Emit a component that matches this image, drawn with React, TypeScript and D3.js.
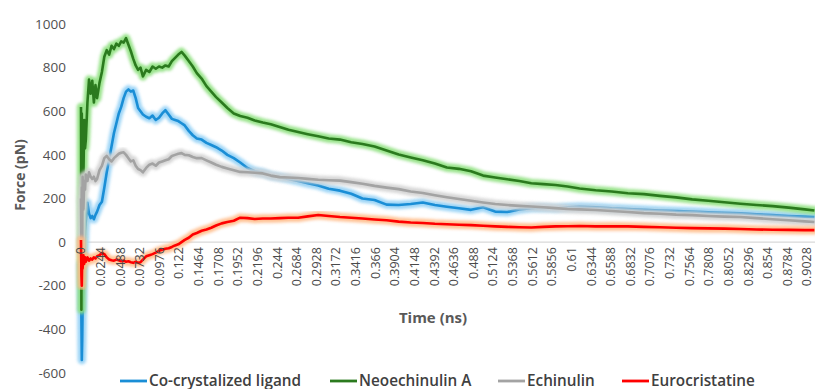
import React from "react";
import * as d3 from "d3";

// time grid (ns), finer near the start where the curves spike
const time = [
  0, 0.0005, 0.001, 0.0015, 0.002, 0.003, 0.004, 0.005, 0.006, 0.008, 0.01, 0.012, 0.014, 0.016, 0.018, 0.02,
  0.023, 0.026, 0.029, 0.032, 0.035, 0.038, 0.041, 0.044, 0.047, 0.05, 0.053, 0.056, 0.059, 0.062, 0.065, 0.068,
  0.071, 0.074, 0.077, 0.081, 0.085, 0.089, 0.093, 0.097, 0.101, 0.105, 0.109, 0.113, 0.117, 0.121, 0.125, 0.129,
  0.134, 0.139, 0.144, 0.15, 0.156, 0.162, 0.168, 0.175, 0.182, 0.19, 0.198, 0.207, 0.216, 0.226, 0.236, 0.247,
  0.258, 0.27, 0.282, 0.295, 0.308, 0.322, 0.336, 0.35, 0.365, 0.38, 0.395, 0.41, 0.425, 0.44, 0.455, 0.47, 0.485,
  0.5, 0.515, 0.53, 0.545, 0.56, 0.575, 0.59, 0.605, 0.62, 0.64, 0.66, 0.68, 0.7, 0.72, 0.74, 0.76, 0.78, 0.8,
  0.82, 0.84, 0.86, 0.88, 0.9, 0.912,
];

const coCrystal = [
  -100, -350, -540, -450, -300, -150, -50, 50, 100, 180, 130, 110, 120, 105, 125, 140,
  170, 185, 250, 320, 380, 440, 500, 545, 590, 620, 660, 690, 700, 690, 695, 660,
  615, 600, 585, 575, 568, 580, 560, 570, 590, 605, 585, 565, 560, 555, 545, 535,
  510, 490, 475, 470, 455, 445, 435, 420, 400, 385, 365, 340, 325, 318, 305, 298,
  290, 280, 270, 260, 245, 236, 222, 200, 193, 172, 170, 175, 182, 170, 162, 155, 148,
  160, 140, 138, 150, 156, 158, 155, 160, 162, 160, 155, 152, 148, 145, 143, 140, 137, 134,
  132, 128, 124, 120, 117, 115,
];

const neoechinulin = [
  620, -310, 590, 260, 520, 300, 560, 430, 470, 640, 745, 680, 740, 640, 720, 660,
  730, 780, 850, 880, 860, 900, 885, 910, 900, 920, 915, 935, 905, 875, 840, 810,
  790, 800, 760, 790, 780, 805, 795, 805, 800, 810, 805, 830, 845, 860, 872, 855,
  830, 805, 775, 750, 715, 690, 665, 640, 615, 590, 578, 570, 558, 548, 540, 528,
  515, 505, 495, 485, 475, 470, 458, 450, 438, 420, 402, 388, 375, 360, 342, 336, 325,
  305, 296, 288, 280, 270, 266, 262, 255, 246, 238, 232, 224, 220, 212, 205, 196, 190, 183,
  176, 170, 165, 158, 150, 145,
];

const echinulin = [
  200, -40, 250, -20, 300, 150, 280, 240, 310, 280, 320, 300, 290, 300, 280, 290,
  330, 350, 385, 395, 380, 370, 385, 395, 405, 410, 412, 400, 385, 370, 375, 350,
  335, 330, 320, 340, 355, 360, 350, 365, 370, 375, 380, 395, 400, 405, 408, 400,
  398, 390, 385, 385, 375, 365, 355, 345, 338, 330, 322, 320, 318, 315, 305, 298,
  296, 294, 290, 286, 284, 282, 275, 268, 258, 250, 243, 232, 225, 215, 206, 198, 190,
  182, 175, 170, 166, 163, 160, 156, 152, 150, 147, 143, 138, 133, 130, 126, 124, 120, 117,
  115, 110, 105, 100, 95, 92,
];

const eurocristatine = [
  10, -150, -200, -80, -120, -60, -100, -70, -90, -70, -85, -75, -80, -70, -75, -65,
  -60, -50, -55, -70, -80, -83, -85, -80, -83, -88, -85, -90, -88, -92, -95, -90,
  -95, -92, -80, -65, -60, -55, -48, -40, -35, -30, -28, -22, -15, -10, 0, 10,
  20, 35, 42, 52, 58, 66, 76, 86, 92, 98, 112, 110, 106, 108, 108, 110,
  112, 112, 118, 124, 120, 115, 112, 108, 104, 100, 94, 90, 88, 84, 82, 80, 78,
  75, 72, 70, 68, 67, 70, 72, 73, 74, 72, 73, 72, 70, 68, 66, 64, 63, 62,
  60, 58, 57, 56, 55, 55,
];

const seriesNames = ["Co-crystalized ligand", "Neoechinulin A", "Echinulin", "Eurocristatine"];
const seriesValues = [coCrystal, neoechinulin, echinulin, eurocristatine];
const lineColors = ["#1a8ed6", "#2b7a1e", "#a3a3a3", "#ff0000"];
const glowColors = ["#93d0f5", "#8ee07f", "#d2d2d2", "#ffbb88"];

const yTicks = [-600, -400, -200, 0, 200, 400, 600, 800, 1000];
const xTickLabels = [
  "0", "0.0244", "0.0488", "0.0732", "0.0976", "0.122", "0.1464", "0.1708", "0.1952", "0.2196", "0.244",
  "0.2684", "0.2928", "0.3172", "0.3416", "0.366", "0.3904", "0.4148", "0.4392", "0.4636", "0.488", "0.5124",
  "0.5368", "0.5612", "0.5856", "0.61", "0.6344", "0.6588", "0.6832", "0.7076", "0.732", "0.7564", "0.7808",
  "0.8052", "0.8296", "0.854", "0.8784", "0.9028",
];

const W = 815;
const H = 389;
const font = "'Open Sans', 'Noto Sans', sans-serif";

export default function App() {
  const x = d3.scaleLinear().domain([0, 0.9028]).range([81, 807]);
  const y = d3.scaleLinear().domain([-600, 1000]).range([373, 24]);

  const line = d3
    .line<number>()
    .x((_, i) => x(time[i]))
    .y((d) => y(d))
    .curve(d3.curveLinear);

  const legendX = [120, 330, 498, 622];

  return (
    <svg
      width={W}
      height={H}
      style={{ position: "absolute", left: 0, top: 0, background: "#fff" }}
      fontFamily={font}
    >
      <defs>
        <filter id="soft" x="-5%" y="-5%" width="110%" height="110%">
          <feGaussianBlur stdDeviation="1.4" />
        </filter>
        <clipPath id="plot">
          <rect x={0} y={0} width={W} height={H} />
        </clipPath>
      </defs>

      {/* y tick labels */}
      {yTicks.map((t) => (
        <text key={t} x={66} y={y(t)} dy="0.35em" textAnchor="end" fontSize={13.5} fill="#505050">
          {t}
        </text>
      ))}

      {/* zero axis line */}
      <line x1={81} x2={W} y1={y(0)} y2={y(0)} stroke="#d9d9d9" strokeWidth={1.2} />

      {/* series: glow then line */}
      <g clipPath="url(#plot)">
        {seriesValues.map((vals, i) => (
          <g key={seriesNames[i]}>
            <path
              d={line(vals) || ""}
              fill="none"
              stroke={glowColors[i]}
              strokeWidth={8.5}
              strokeLinejoin="round"
              strokeLinecap="round"
              filter="url(#soft)"
              opacity={0.9}
            />
            <path
              d={line(vals) || ""}
              fill="none"
              stroke={lineColors[i]}
              strokeWidth={2.6}
              strokeLinejoin="round"
            />
          </g>
        ))}
      </g>

      {/* x tick labels */}
      {xTickLabels.map((lab) => (
        <text
          key={lab}
          transform={`translate(${x(+lab)},${y(0) + 5}) rotate(-90)`}
          dy="0.35em"
          textAnchor="end"
          fontSize={12.5}
          fill="#4a4a4a"
        >
          {lab}
        </text>
      ))}

      {/* axis titles */}
      <text x={433} y={323} textAnchor="middle" fontSize={15} fontWeight={700} fill="#595959">
        Time (ns)
      </text>
      <text
        transform={`translate(25,175) rotate(-90)`}
        textAnchor="middle"
        fontSize={14}
        fontWeight={700}
        fill="#595959"
      >
        Force (pN)
      </text>

      {/* legend */}
      {seriesNames.map((name, i) => (
        <g key={name} transform={`translate(${legendX[i]},381)`}>
          <line x1={0} x2={27} y1={0} y2={0} stroke={lineColors[i]} strokeWidth={2.8} />
          <text x={29} y={0} dy="0.35em" fontSize={15.3} fontWeight={600} fill="#404040">
            {name}
          </text>
        </g>
      ))}
    </svg>
  );
}
